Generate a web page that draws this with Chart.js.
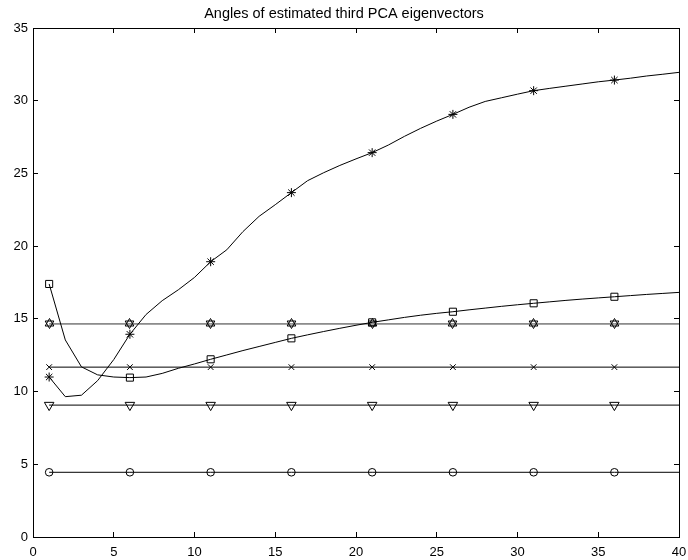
<!DOCTYPE html>
<html>
<head>
<meta charset="utf-8">
<script src="https://cdn.jsdelivr.net/npm/chart.js@4.4.0/dist/chart.umd.min.js"></script>
<style>
  html, body { margin: 0; padding: 0; background: #fff; }
  canvas { display: block; }
</style>
</head>
<body>
<canvas id="c" width="688" height="560"></canvas>
<script>
const TITLE = "Angles of estimated third PCA eigenvectors";

// Sample positions (one per integer) and where markers are drawn
const xs      = [1, 2, 3, 4, 5, 6, 7, 8, 9, 10, 11, 12, 13, 14, 15, 16, 17, 18, 19, 20,
                 21, 22, 23, 24, 25, 26, 27, 28, 29, 30, 31, 32, 33, 34, 35, 36, 37, 38, 39, 40];
const markerX = [1, 6, 11, 16, 21, 26, 31, 36];

// Curved series at each integer x
const starVals   = [11.0, 9.65, 9.75, 10.75, 12.2, 13.94, 15.3, 16.25, 17.0, 17.85,
                    18.93, 19.75, 21.0, 22.05, 22.85, 23.68, 24.5, 25.05, 25.55, 26.0,
                    26.43, 26.95, 27.55, 28.1, 28.6, 29.06, 29.55, 29.95, 30.2, 30.45,
                    30.69, 30.85, 31.0, 31.15, 31.3, 31.42, 31.55, 31.7, 31.82, 31.95];
const squareVals = [17.4, 13.55, 11.7, 11.15, 11.0, 10.96, 11.0, 11.25, 11.6, 11.9,
                    12.22, 12.52, 12.82, 13.1, 13.38, 13.66, 13.9, 14.13, 14.35, 14.56,
                    14.76, 14.93, 15.1, 15.25, 15.38, 15.49, 15.62, 15.74, 15.86, 15.97,
                    16.07, 16.17, 16.27, 16.36, 16.44, 16.52, 16.6, 16.68, 16.75, 16.82];

// Flat series: one level each
const hexLevel      = 14.65;
const crossLevel    = 11.68;
const triangleLevel = 9.07;
const circleLevel   = 4.45;

const X_MIN = 0, X_MAX = 40, Y_MIN = 0, Y_MAX = 35, STEP = 5;

const FONT = "'Liberation Sans', Arial, Helvetica, sans-serif";

// Star-of-David marker (Chart.js has no hexagram)
function hexagram(size, color) {
  const c = document.createElement("canvas");
  c.width = c.height = size;
  const g = c.getContext("2d");
  const cx = size / 2, cy = size / 2, r = size / 2 - 0.5;
  g.strokeStyle = color;
  g.lineWidth = 1;
  for (const start of [-Math.PI / 2, Math.PI / 2]) {
    g.beginPath();
    for (let k = 0; k < 3; k++) {
      const a = start + k * 2 * Math.PI / 3;
      const px = cx + r * Math.cos(a), py = cy + r * Math.sin(a);
      k ? g.lineTo(px, py) : g.moveTo(px, py);
    }
    g.closePath();
    g.stroke();
  }
  return c;
}

const curve = (vals) => xs.map((x, i) => ({ x, y: vals[i] }));
const flat  = (level) => [...markerX, X_MAX].map(x => ({ x, y: level }));
const markR = (r) => (ctx) => markerX.includes(ctx.raw && ctx.raw.x) ? r : 0;

function series(data, style, r, color = "#000", rotation = 0) {
  return {
    data,
    xAxisID: "x",
    yAxisID: "y",
    borderColor: color,
    borderWidth: 1,
    tension: 0,
    fill: false,
    pointStyle: style,
    pointRadius: markR(r),
    pointBorderColor: "#000",
    pointBackgroundColor: "rgba(0,0,0,0)",
    pointBorderWidth: 1,
    pointRotation: rotation,
    pointHoverRadius: 0
  };
}

const datasets = [
  series(curve(starVals), "star", 4.5),
  series(curve(squareVals), "rect", 5),
  series(flat(hexLevel), hexagram(11, "#000"), 4, "#333"),
  series(flat(crossLevel), "crossRot", 4),
  series(flat(triangleLevel), "triangle", 5.5, "#000", 180),
  series(flat(circleLevel), "circle", 3.8)
];

// Inward ticks on all four sides, MATLAB style
const gridIn = { drawOnChartArea: false, drawTicks: true, tickLength: -5, color: "#000", lineWidth: 1 };
const border = { display: true, color: "#000", width: 1 };
const tickFont = { family: FONT, size: 13 };

// keep the image markers crisp
const crispImages = {
  id: "crispImages",
  beforeDatasetsDraw(chart) { chart.ctx.imageSmoothingEnabled = false; }
};

new Chart(document.getElementById("c"), {
  type: "line",
  data: { datasets },
  plugins: [crispImages],
  options: {
    responsive: false,
    animation: false,
    events: [],
    layout: { padding: 0 },
    plugins: {
      legend: { display: false },
      tooltip: { enabled: false },
      title: {
        display: true,
        text: TITLE,
        color: "#000",
        font: { family: FONT, size: 14.5, weight: "normal" },
        padding: { top: 5, bottom: 5.6 }
      }
    },
    scales: {
      x: {
        type: "linear", position: "bottom", min: X_MIN, max: X_MAX,
        ticks: { stepSize: STEP, color: "#000", font: tickFont, padding: 13, maxRotation: 0, autoSkip: false },
        grid: gridIn, border,
        afterFit: (s) => { s.height = 23; s.paddingLeft = 0; s.paddingRight = 0; }
      },
      x2: {
        type: "linear", position: "top", min: X_MIN, max: X_MAX,
        ticks: { stepSize: STEP, display: false },
        grid: gridIn, border,
        afterFit: (s) => { s.height = 0; }
      },
      y: {
        type: "linear", position: "left", min: Y_MIN, max: Y_MAX,
        ticks: { stepSize: STEP, color: "#000", font: tickFont, padding: 10 },
        grid: gridIn, border,
        afterFit: (s) => { s.width = 33; }
      },
      y2: {
        type: "linear", position: "right", min: Y_MIN, max: Y_MAX,
        ticks: { stepSize: STEP, display: false },
        grid: gridIn, border,
        afterFit: (s) => { s.width = 9; }
      }
    }
  }
});
</script>
</body>
</html>
